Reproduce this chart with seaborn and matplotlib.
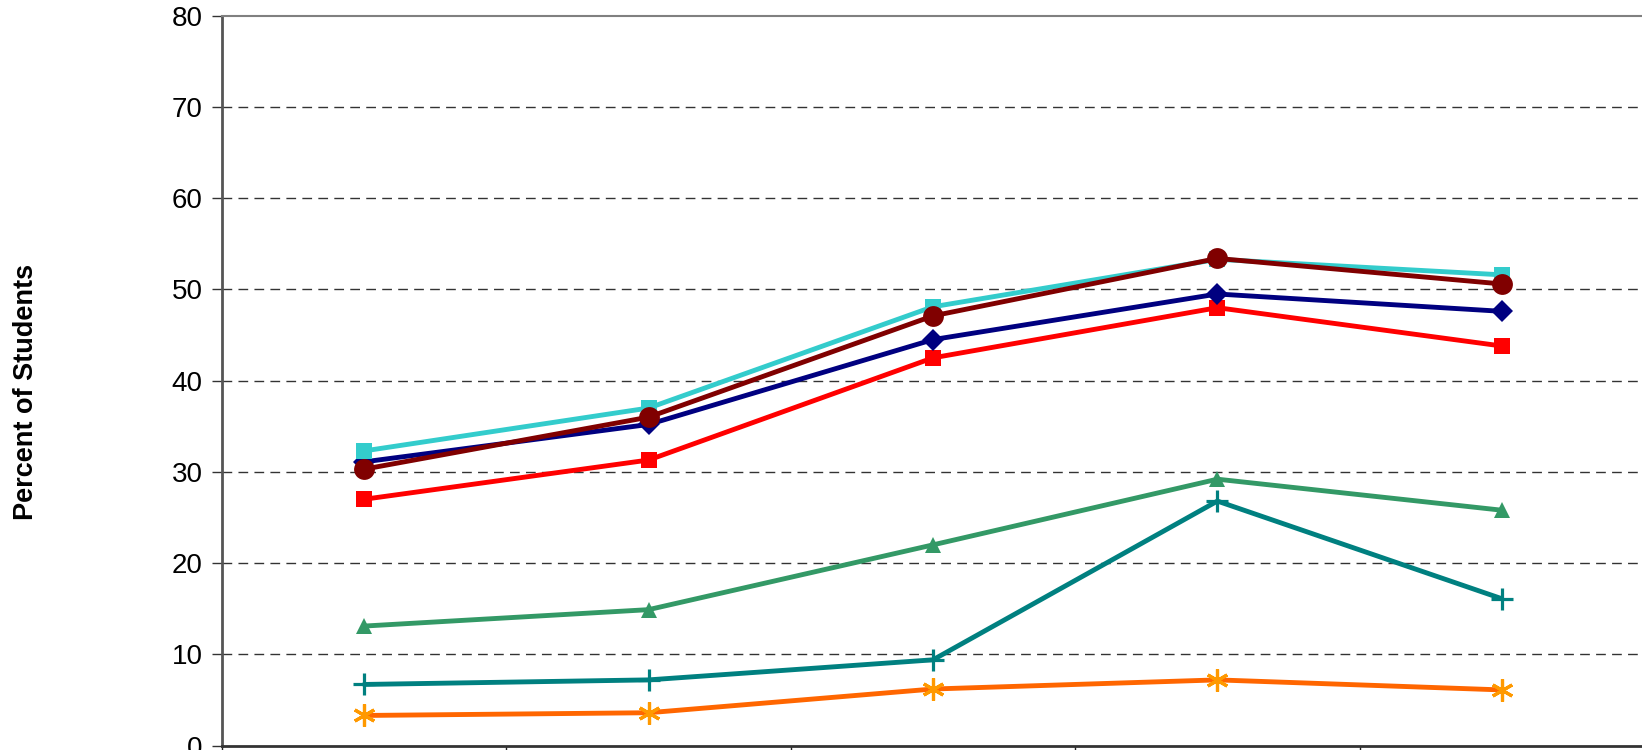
import seaborn as sns
import matplotlib
matplotlib.use('Agg')
import matplotlib.pyplot as plt
import pandas as pd

# category positions (x labels are cut off in the original)
categories = ["1", "2", "3", "4", "5"]

cyan_vals = [32.3, 37.0, 48.1, 53.3, 51.6]
navy_vals = [31.1, 35.2, 44.5, 49.5, 47.6]
red_vals = [27.0, 31.3, 42.5, 48.0, 43.8]
maroon_vals = [30.3, 36.0, 47.1, 53.4, 50.6]
green_vals = [13.1, 14.9, 22.0, 29.2, 25.8]
teal_vals = [6.7, 7.2, 9.4, 26.8, 16.1]
orange_vals = [3.3, 3.6, 6.2, 7.2, 6.1]

sns.set_theme(style="white")
plt.rcParams['font.family'] = ['Liberation Sans', 'DejaVu Sans']

f = plt.figure(figsize=(16.42, 7.5), dpi=100)
ax = f.add_axes([0.1352, 0.0059, 0.8660, 0.9731])

xs = list(range(len(categories)))

# (values, line colour, marker, marker colour, size, z)
series = [
    (red_vals, "#FF0000", "s", "#FF0000", 11, 3),
    (navy_vals, "#000080", "D", "#000080", 11, 4),
    (cyan_vals, "#33CCCC", "s", "#33CCCC", 11, 5),
    (maroon_vals, "#800000", "o", "#800000", 15, 6),
    (green_vals, "#339966", "^", "#339966", 12, 3),
    (teal_vals, "#008080", "+", "#008080", 16, 3),
    (orange_vals, "#FF6600", (6, 2, 0), "#FF9900", 16, 3),
]

for vals, col, mk, mcol, ms, z in series:
    df = pd.DataFrame({"x": xs, "y": vals})
    sns.lineplot(data=df, x="x", y="y", ax=ax, color=col, linewidth=3.5,
                 marker=mk, markersize=ms, markerfacecolor=mcol,
                 markeredgecolor=mcol, markeredgewidth=2.3 if mk in ("+", (6, 2, 0)) else 0,
                 zorder=z)

ax.set_xlim(-0.5, len(categories) - 0.5)
ax.set_ylim(0, 80)
ax.set_yticks(range(0, 81, 10))
ax.set_xticks([i - 0.5 for i in range(len(categories))])
ax.set_xticklabels([])

for y in range(10, 80, 10):
    ax.axhline(y, color="#333333", linewidth=1, linestyle=(0, (7, 4.5)), zorder=1)

ax.tick_params(axis='y', direction='out', length=7, width=1, color="#333333",
               labelsize=20, pad=7, left=True, labelcolor="black")
ax.tick_params(axis='x', direction='out', length=7, width=1, color="#222222", bottom=True)

ax.spines['right'].set_visible(False)
ax.spines['top'].set_color("#808080")
ax.spines['top'].set_linewidth(1.5)
ax.spines['left'].set_color("#555555")
ax.spines['left'].set_linewidth(2)
ax.spines['bottom'].set_color("#333333")
ax.spines['bottom'].set_linewidth(2)

ax.set_xlabel("")
ax.set_ylabel("Percent of Students", fontsize=19.5, fontweight='bold', labelpad=0, color="black")
ax.yaxis.set_label_coords(-0.1286, 0.484)

f.savefig("out.png", dpi=100)
